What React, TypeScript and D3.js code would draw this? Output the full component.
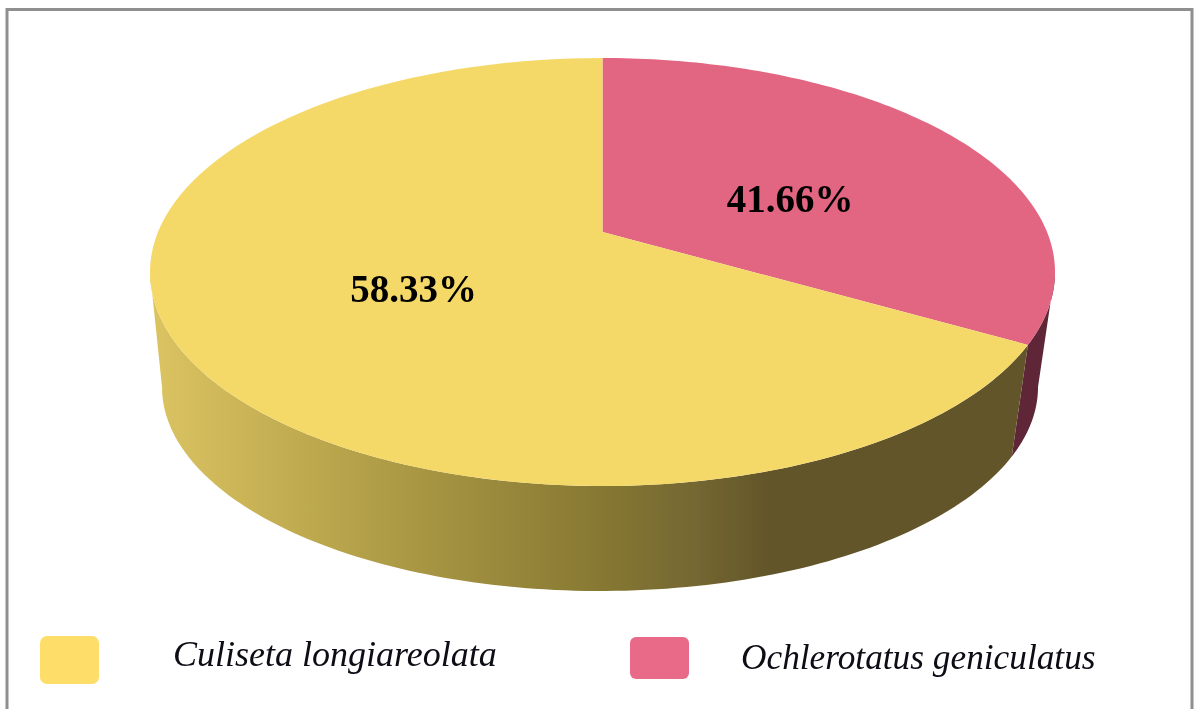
import React from "react";
import * as d3 from "d3";

const species = ["Ochlerotatus geniculatus", "Culiseta longiareolata"];
const shares = [41.66, 58.33];
const shareLabels = ["41.66%", "58.33%"];

const W = 1195, H = 709;
const top = { cx: 602.5, cy: 272, rx: 452.5, ry: 214 };
const low = { cx: 600, cy: 387, rx: 438, ry: 204 };
const apex = { x: 602.5, y: 232 };
// Perspective of the 3D view: true pie angle -> angle on the drawn ellipse
const persp = 0.745;
const view = (a: number) => {
  const u = Math.cos(a), v = Math.sin(a);
  const k = 1 + persp * u;
  const t = Math.atan2((v * Math.sqrt(1 - persp * persp)) / k, (u + persp) / k);
  return t < 0 ? t + 2 * Math.PI : t;
};
const onE = (e: typeof top, t: number): [number, number] => [e.cx + e.rx * Math.sin(t), e.cy - e.ry * Math.cos(t)];
const arcPts = (e: typeof top, a: number, b: number) =>
  d3.range(0, 121).map((i) => onE(e, a + ((b - a) * i) / 120));
const line = d3.line();

const slices = d3.pie<number>().sort(null)(shares);
const pinkEnd = view(slices[0].endAngle);
const fullTurn = slices[1].endAngle;
const faceColors = ["#e26682", "#f5d968"];
const legendColors = ["#e96a88", "#fedd68"];
const wallPink = "#5e2638";
const rightEdge = Math.PI / 2;
const leftEdge = (3 * Math.PI) / 2;

const wallStops: [number, string][] = [
  [0, "#dcc462"], [0.23, "#c0ab50"], [0.47, "#a29140"], [0.7, "#877933"],
  [0.86, "#736630"], [0.97, "#62552a"], [1, "#62552a"],
];

const wallPath = (a: number, b: number) =>
  line([...arcPts(top, a, b), ...arcPts(low, b, a)]) + "Z";

const facePath = (a: number, b: number) =>
  line([[apex.x, apex.y], ...arcPts(top, a, b)]) + "Z";

const serif = "'Liberation Serif', 'Times New Roman', serif";

export default function App() {
  return (
    <svg width={W} height={H} viewBox={`0 0 ${W} ${H}`}
      style={{ position: "absolute", left: 0, top: 0, background: "#fff" }}>
      <defs>
        <linearGradient id="wall" gradientUnits="userSpaceOnUse" x1={150} x2={790} y1={0} y2={0}>
          {wallStops.map(([o, c]) => <stop key={o} offset={o} stopColor={c} />)}
        </linearGradient>
        <filter id="soft" x="0" y="0" width="100%" height="100%" filterUnits="userSpaceOnUse">
          <feGaussianBlur stdDeviation="0.55" />
        </filter>
      </defs>
      <g filter="url(#soft)">
        <rect x={7} y={9.5} width={1185} height={720} fill="#fff" stroke="#8f8f8f" strokeWidth={3} />

        <path d={wallPath(rightEdge, pinkEnd)} fill={wallPink} />
        <path d={wallPath(pinkEnd, leftEdge)} fill="url(#wall)" />
        <path d={facePath(slices[0].startAngle, pinkEnd)} fill={faceColors[0]} />
        <path d={facePath(pinkEnd, fullTurn)} fill={faceColors[1]} />

        <g fontFamily={serif} fontWeight="bold" fontSize={39} fill="#000" textAnchor="middle">
          <text x={790} y={212}>{shareLabels[0]}</text>
          <text x={413.5} y={302}>{shareLabels[1]}</text>
        </g>

        <rect x={40} y={636} width={59} height={48} rx={7} fill={legendColors[1]} />
        <rect x={630} y={637} width={59} height={42} rx={6} fill={legendColors[0]} />
        <g fontFamily={serif} fontStyle="italic" fill="#0a0a14">
          <text x={173} y={666} fontSize={36}>{species[1]}</text>
          <text x={741} y={669} fontSize={35.3}>{species[0]}</text>
        </g>
      </g>
    </svg>
  );
}
